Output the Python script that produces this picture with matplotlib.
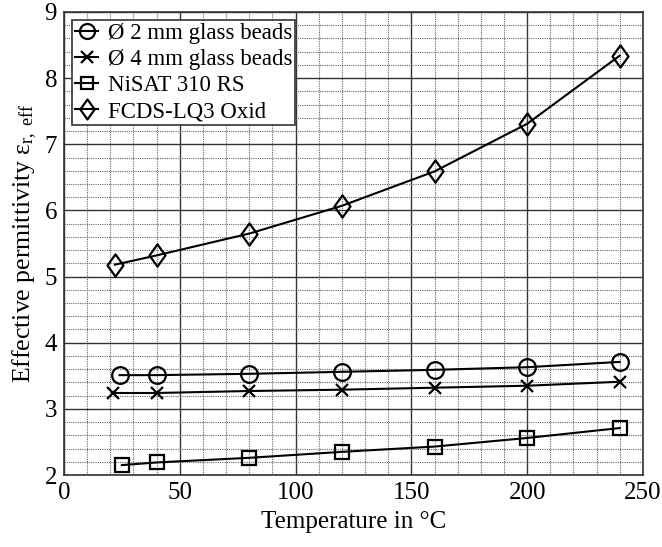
import matplotlib
matplotlib.use("Agg")
import matplotlib.pyplot as plt
from matplotlib.ticker import MultipleLocator
from matplotlib.path import Path

plt.rcParams['font.family'] = ['Liberation Serif', 'DejaVu Serif']
plt.rcParams['mathtext.fontset'] = 'custom'
plt.rcParams['mathtext.rm'] = 'Liberation Serif'
plt.rcParams['mathtext.it'] = 'Liberation Serif:italic'

# Measured effective permittivity vs. temperature
temp_beads2 = [24, 40, 80, 120, 160, 200, 240]
eps_beads2 = [3.51, 3.51, 3.53, 3.56, 3.59, 3.63, 3.71]

temp_beads4 = [21, 40, 80, 120, 160, 200, 240]
eps_beads4 = [3.24, 3.24, 3.27, 3.29, 3.32, 3.35, 3.41]

temp_nisat = [25, 40, 80, 120, 160, 200, 240]
eps_nisat = [2.15, 2.19, 2.26, 2.35, 2.43, 2.56, 2.71]

temp_fcds = [22, 40, 80, 120, 160, 200, 240]
eps_fcds = [5.18, 5.32, 5.65, 6.07, 6.59, 7.31, 8.34]

labels = ['Ø 2 mm glass beads', 'Ø 4 mm glass beads', 'NiSAT 310 RS', 'FCDS-LQ3 Oxid']

# slightly tall diamond marker
tall_diamond = Path([(0, 1), (0.72, 0), (0, -1), (-0.72, 0), (0, 1)],
                    [Path.MOVETO, Path.LINETO, Path.LINETO, Path.LINETO, Path.CLOSEPOLY])

fig = plt.figure(figsize=(6.62, 5.47), dpi=100)
ax = fig.add_axes([0.0967, 0.1316, 0.8745, 0.8465])

common = dict(color='black', lw=1.5, mfc='none', mec='black', mew=1.6)
ax.plot(temp_beads2, eps_beads2, marker='o', ms=12, label=labels[0], **common)
ax.plot(temp_beads4, eps_beads4, marker='x', ms=9, label=labels[1], **common)
ax.plot(temp_nisat, eps_nisat, marker='s', ms=10, label=labels[2], **common)
ax.plot(temp_fcds, eps_fcds, marker=tall_diamond, ms=16, label=labels[3], **common)

ax.set_xlim(0, 250)
ax.set_ylim(2, 9)
ax.xaxis.set_major_locator(MultipleLocator(50))
ax.xaxis.set_minor_locator(MultipleLocator(10))
ax.yaxis.set_major_locator(MultipleLocator(1))
ax.yaxis.set_minor_locator(MultipleLocator(0.2))
ax.grid(which='major', color='#333333', lw=1.0, ls='-')
ax.grid(which='minor', color='#666666', lw=0.8, ls=(0, (1, 1)))
ax.set_axisbelow(True)
ax.tick_params(which='both', length=0, labelsize=18, pad=5)
for s in ax.spines.values():
    s.set_linewidth(1.2)
    s.set_color('#333333')

ax.set_xlabel('Temperature in °C', fontsize=18, labelpad=5)
ax.set_ylabel('Effective permittivity ε$_{\\mathrm{r,\\ eff}}$', fontsize=18.5, labelpad=4)

leg = ax.legend(loc='upper left', fontsize=16.5, frameon=True, fancybox=False,
                edgecolor='#333333', framealpha=1, borderpad=0.15,
                labelspacing=0.21, handlelength=1.0, handletextpad=0.4,
                borderaxespad=0.35, markerscale=0.9)
leg.get_frame().set_linewidth(1.2)

fig.savefig('out.png', dpi=100)
